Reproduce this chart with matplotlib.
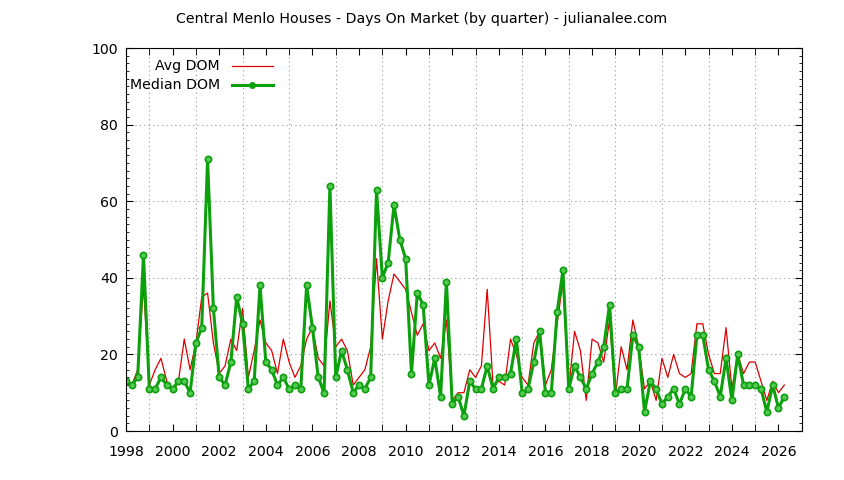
import numpy as np
import matplotlib
matplotlib.use('Agg')
import matplotlib.pyplot as plt
from matplotlib.lines import Line2D
from matplotlib.ticker import MultipleLocator

# quarterly data, first point = 1998 Q1
start_year = 1998
median_dom = [13, 12, 14, 46, 11, 11, 14, 12, 11, 13, 13, 10, 23, 27, 71, 32,
              14, 12, 18, 35, 28, 11, 13, 38, 18, 16, 12, 14, 11, 12, 11, 38,
              27, 14, 10, 64, 14, 21, 16, 10, 12, 11, 14, 63, 40, 44, 59, 50,
              45, 15, 36, 33, 12, 19, 9, 39, 7, 9, 4, 13, 11, 11, 17, 11,
              14, 14, 15, 24, 10, 11, 18, 26, 10, 10, 31, 42, 11, 17, 14, 11,
              15, 18, 22, 33, 10, 11, 11, 25, 22, 5, 13, 11, 7, 9, 11, 7,
              11, 9, 25, 25, 16, 13, 9, 19, 8, 20, 12, 12, 12, 11, 5, 12,
              6, 9]
avg_dom = [13, 12, 16, 38, 12, 16, 19, 13, 10, 13, 24, 16, 23, 35, 36, 23,
           15, 17, 24, 21, 32, 14, 21, 29, 23, 21, 15, 24, 18, 14, 17, 24,
           27, 19, 17, 34, 22, 24, 21, 12, 14, 16, 22, 45, 24, 34, 41, 39,
           37, 31, 25, 28, 21, 23, 19, 29, 8, 10, 10, 16, 14, 17, 37, 12,
           13, 12, 24, 20, 14, 12, 23, 26, 12, 16, 28, 39, 11, 26, 21, 8,
           24, 23, 18, 29, 9, 22, 16, 29, 22, 11, 13, 8, 19, 14, 20, 15,
           14, 15, 28, 28, 20, 15, 15, 27, 11, 20, 15, 18, 18, 13, 8, 13,
           10, 12]

x = start_year + np.arange(len(median_dom)) / 4.0

red = '#dd0000'
green = '#0ca00c'
med_style = dict(color=green, lw=2.2, marker='o', ms=4.5,
                 mfc='#55c855', mec=green, mew=1.2)

fig = plt.figure(figsize=(8.44, 4.8), dpi=100)
ax = fig.add_axes([0.1493, 0.102, 0.8007, 0.798])

ax.plot(x, avg_dom, color=red, lw=0.9)
ax.plot(x, median_dom, **med_style)

ax.set_xlim(1998, 2027)
ax.set_ylim(0, 100)
ax.xaxis.set_major_locator(MultipleLocator(2))
ax.xaxis.set_minor_locator(MultipleLocator(1))
ax.yaxis.set_major_locator(MultipleLocator(20))
ax.yaxis.set_minor_locator(MultipleLocator(2))
ax.tick_params(which='both', direction='in', top=True, right=True,
               labelsize=10.2, pad=6)
ax.tick_params(axis='x', which='both', length=5, pad=10)
ax.tick_params(axis='y', which='major', length=5)
ax.tick_params(axis='y', which='minor', length=2.5)

ax.grid(axis='x', which='minor', color='#999999', ls=(0, (1, 3)), lw=0.8)
ax.grid(axis='y', which='major', color='#999999', ls=(0, (1, 3)), lw=0.8)
ax.set_axisbelow(True)

fig.text(0.5, 1 - 19 / 480,
         'Central Menlo Houses - Days On Market (by quarter) - julianalee.com',
         ha='center', va='center', fontsize=10.2)

# gnuplot style key: label right-justified, sample to the right
key_rows = [('Avg DOM', dict(color=red, lw=0.9), 0.953),
            ('Median DOM', med_style, 0.903)]
for label, style, ky in key_rows:
    ax.text(0.139, ky, label, transform=ax.transAxes, ha='right',
            va='center', fontsize=10.2)
    ax.add_line(Line2D([0.157, 0.2175], [ky, ky], transform=ax.transAxes,
                       clip_on=False, color=style['color'], lw=style['lw']))
    if 'marker' in style:
        ax.add_line(Line2D([0.187], [ky], transform=ax.transAxes, ls='none',
                           marker='o', ms=4, mfc=green, mec=green))

fig.savefig('out.png', dpi=100)
